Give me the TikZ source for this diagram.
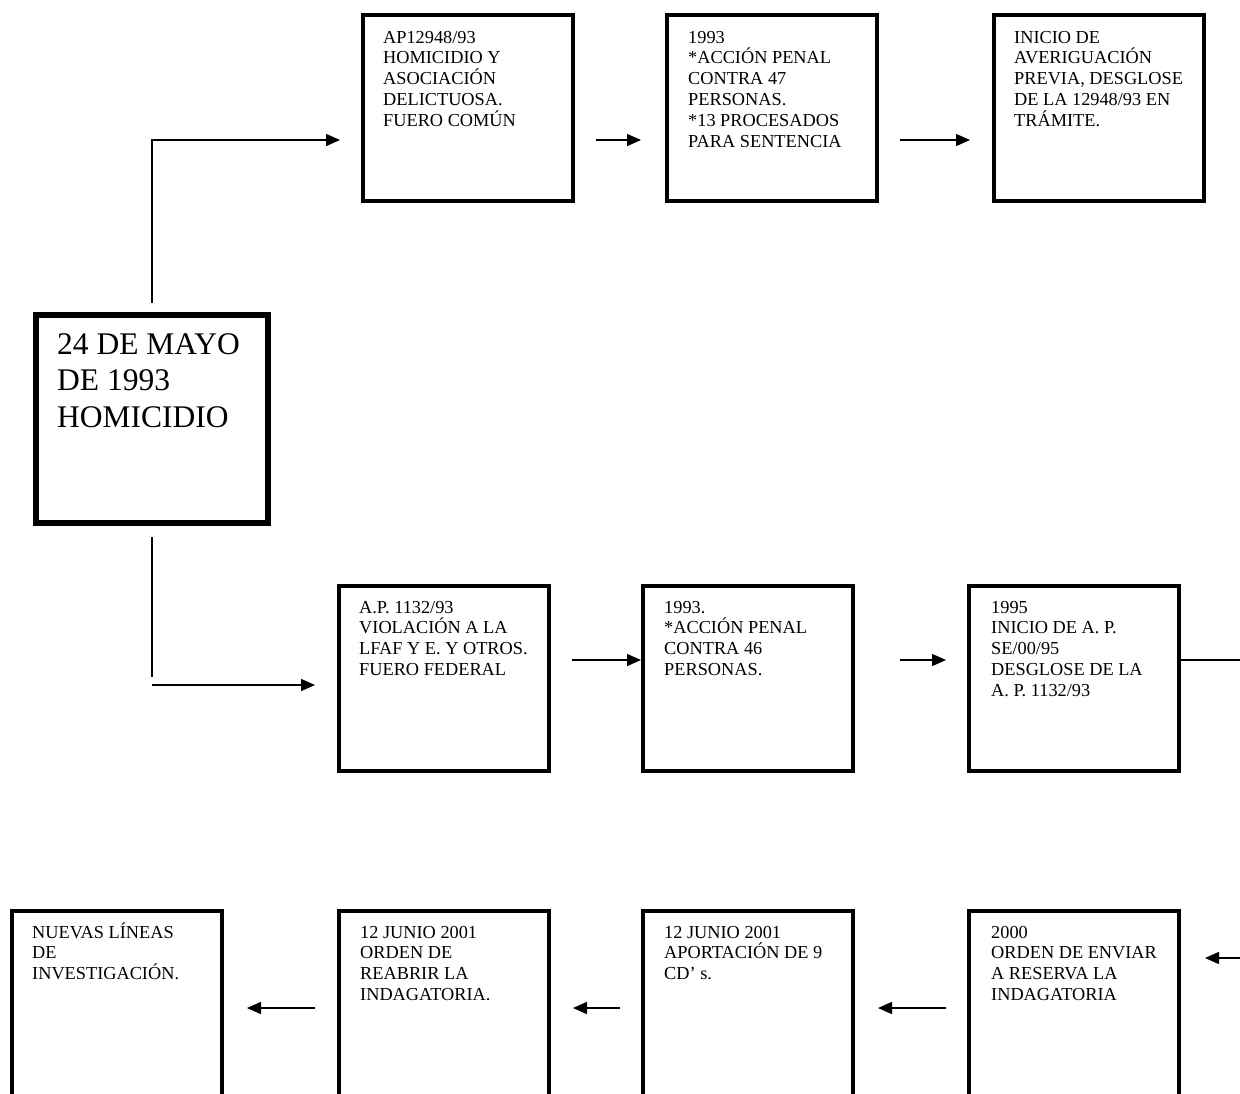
\documentclass[tikz,border=0pt]{standalone}
\usepackage{fontspec}
\setmainfont{Liberation Serif}
\usetikzlibrary{arrows.meta,calc}
\newcommand\bxtxt[1]{\parbox[t]{220pt}{\fontsize{18.3pt}{20.8pt}\selectfont\raggedright #1}}
\newcommand\bigtxt[1]{\parbox[t]{230pt}{\fontsize{31.5pt}{36.5pt}\selectfont\raggedright #1}}
\begin{document}
\begin{tikzpicture}[x=1pt,y=-1pt,
  topbox/.style={draw,line width=4pt,inner sep=0pt,minimum width=210pt,minimum height=186pt},
  midbox/.style={draw,line width=4pt,inner sep=0pt,minimum width=210pt,minimum height=185pt},
  botbox/.style={draw,line width=4pt,inner sep=0pt,minimum width=210pt,minimum height=198pt},
  mainbox/.style={draw,line width=6pt,inner sep=0pt,minimum width=232pt,minimum height=208pt},
  txt/.style={anchor=base west,inner sep=0pt},
  ln/.style={line width=1.4pt},
  arr/.style={line width=1.4pt,-{Triangle[length=14pt,width=12pt]}}]
\useasboundingbox (0,0) rectangle (1240,1093);
\fill[white] (0,0) rectangle (1240,1093);
\clip (0,0) rectangle (1240,1093);

% boxes
\node[mainbox] (main) at (152,419) {};
\node[topbox] (b1) at (468,108) {};
\node[topbox] (b2) at (772,108) {};
\node[topbox] (b3) at (1099,108) {};
\node[midbox] (b4) at (444,678.5) {};
\node[midbox] (b5) at (748,678.5) {};
\node[midbox] (b6) at (1074,678.5) {};
\node[botbox] (b7) at (117,1010) {};
\node[botbox] (b8) at (444,1010) {};
\node[botbox] (b9) at (748,1010) {};
\node[botbox] (b10) at (1074,1010) {};

% texts
\node[txt] (t0) at (57,354) {\bigtxt{24 DE MAYO\\DE 1993\\HOMICIDIO}};
\node[txt] (t1) at (383,43) {\bxtxt{AP12948/93\\HOMICIDIO Y\\ASOCIACIÓN\\DELICTUOSA.\\FUERO COMÚN}};
\node[txt] (t2) at (688,43) {\bxtxt{1993\\{*}ACCIÓN PENAL\\CONTRA 47\\PERSONAS.\\{*}13 PROCESADOS\\PARA SENTENCIA}};
\node[txt] (t3) at (1014,43) {\bxtxt{INICIO DE\\AVERIGUACIÓN\\PREVIA, DESGLOSE\\DE LA 12948/93 EN\\TRÁMITE.}};
\node[txt] (t4) at (359,613) {\bxtxt{A.P. 1132/93\\VIOLACIÓN A LA\\LFAF Y E. Y OTROS.\\FUERO FEDERAL}};
\node[txt] (t5) at (664,613) {\bxtxt{1993.\\{*}ACCIÓN PENAL\\CONTRA 46\\PERSONAS.}};
\node[txt] (t6) at (991,613) {\bxtxt{1995\\INICIO DE A. P.\\SE/00/95\\DESGLOSE DE LA\\A. P. 1132/93}};
\node[txt] (t7) at (32,938) {\bxtxt{NUEVAS LÍNEAS\\DE\\INVESTIGACIÓN.}};
\node[txt] (t8) at (360,938) {\bxtxt{12 JUNIO 2001\\ORDEN DE\\REABRIR LA\\INDAGATORIA.}};
\node[txt] (t9) at (664,938) {\bxtxt{12 JUNIO 2001\\APORTACIÓN DE 9\\CD’ s.}};
\node[txt] (t10) at (991,938) {\bxtxt{2000\\ORDEN DE ENVIAR\\A RESERVA LA\\INDAGATORIA}};

% free-end coordinates
\coordinate (v1) at (152,677);
\coordinate (h1) at (152,685);
\coordinate (r1) at (1240,660);
\coordinate (r2) at (1240,958);

% connectors
\draw[arr] ($(main.north)+(0,-9)$) |- ($(b1.west)+(-21,32)$);
\draw[arr] ($(b1.east)+(21,32)$) -- ($(b2.west)+(-24,32)$);
\draw[arr] ($(b2.east)+(21,32)$) -- ($(b3.west)+(-22,32)$);
\draw[ln] ($(main.south)+(0,11)$) -- (v1);
\draw[arr] (h1) -- ($(b4.west)+(-22,6.5)$);
\draw[arr] ($(b4.east)+(21,-18.5)$) -- ($(b5.west)+(0,-18.5)$);
\draw[arr] ($(b5.east)+(45,-18.5)$) -- ($(b6.west)+(-21,-18.5)$);
\draw[ln] ($(b6.east)+(0,-18.5)$) -- (r1);
\draw[arr] (r2) -- ($(b10.east)+(24,-52)$);
\draw[arr] ($(b10.west)+(-21,-2)$) -- ($(b9.east)+(23,-2)$);
\draw[arr] ($(b9.west)+(-21,-2)$) -- ($(b8.east)+(22,-2)$);
\draw[arr] ($(b8.west)+(-22,-2)$) -- ($(b7.east)+(23,-2)$);
\end{tikzpicture}
\end{document}
